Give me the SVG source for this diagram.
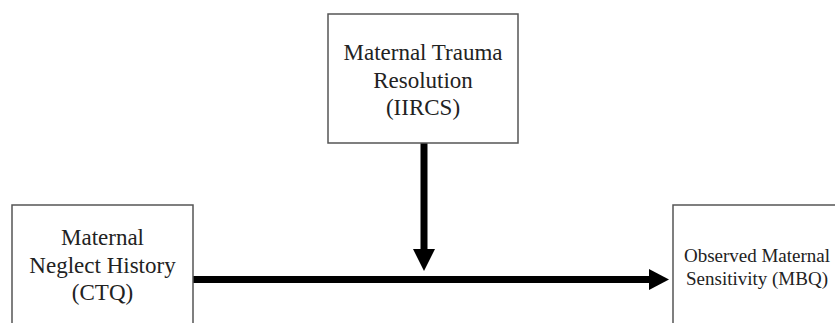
<svg xmlns="http://www.w3.org/2000/svg" width="835" height="323" viewBox="0 0 835 323">
<style>
.box{fill:#fff;stroke:#555;stroke-width:1.5}
.t{font-family:"Liberation Serif","Times New Roman",serif;fill:#222;text-anchor:middle}
.big{font-size:23px}
.small{font-size:19px}
.conn{stroke:#000;stroke-width:7;fill:none}
</style>
<rect width="835" height="323" fill="#fff"/>
<g id="connectors">
<line class="conn" x1="193" y1="279.5" x2="651" y2="279.5"/>
<polygon points="649,269 669,279.5 649,290" fill="#000"/>
<line class="conn" x1="424" y1="143" x2="424" y2="251"/>
<polygon points="413,249 424,271 435,249" fill="#000"/>
</g>
<g id="node-trauma">
<rect class="box" x="328" y="14" width="190" height="129"/>
<text class="t big" x="423" y="60">Maternal Trauma</text>
<text class="t big" x="423" y="88">Resolution</text>
<text class="t big" x="423" y="115">(IIRCS)</text>
</g>
<g id="node-neglect">
<rect class="box" x="12" y="205" width="181" height="130"/>
<text class="t big" x="102.5" y="245">Maternal</text>
<text class="t big" x="102.5" y="273">Neglect History</text>
<text class="t big" x="102.5" y="300">(CTQ)</text>
</g>
<g id="node-sensitivity">
<rect class="box" x="673" y="205" width="170" height="130"/>
<text class="t small" x="757" y="262">Observed Maternal</text>
<text class="t small" x="757" y="285">Sensitivity (MBQ)</text>
</g>
</svg>
